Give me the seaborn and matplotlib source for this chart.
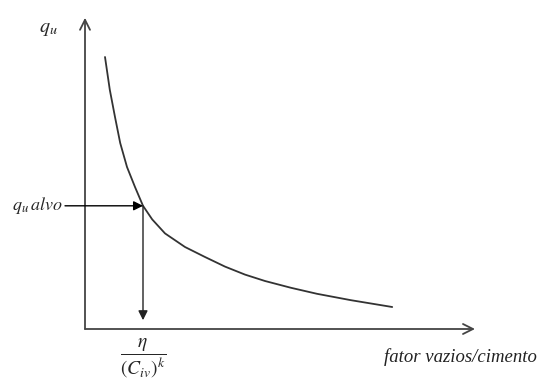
import pandas as pd
import matplotlib.pyplot as plt
import seaborn as sns

sns.set_theme(style="white")
plt.rcParams['mathtext.fontset'] = 'stix'
plt.rcParams['font.family'] = ['Liberation Serif', 'DejaVu Serif']

# curve (axis units: x = fator vazios/cimento, y = qu)
fator = [0.5, 0.62, 0.75, 0.88, 1.05, 1.25, 1.45, 1.68, 2.0, 2.5, 3.0,
         3.5, 4.0, 4.5, 5.15, 5.8, 6.65, 7.68]
qu = [6.8, 5.98, 5.3, 4.65, 4.05, 3.55, 3.08, 2.74, 2.39, 2.05, 1.8,
      1.56, 1.36, 1.2, 1.03, 0.88, 0.72, 0.55]
qu_alvo = 3.08
eta_alvo = 1.45
x_max = 9.75
y_max = 7.78

df = pd.DataFrame({'fator': fator, 'qu': qu})

fig = plt.figure(figsize=(5.4, 3.83), dpi=100)
ax = fig.add_axes([0, 0, 1, 1])
sns.lineplot(data=df, x='fator', y='qu', color='#333333', linewidth=1.3, ax=ax)

# axes drawn as arrows
ax.annotate('', xy=(0, y_max), xytext=(0, 0),
            arrowprops=dict(arrowstyle='->', color='#444444', lw=1.3,
                            mutation_scale=18, shrinkA=0, shrinkB=0))
ax.annotate('', xy=(x_max, 0), xytext=(0, 0),
            arrowprops=dict(arrowstyle='->', color='#444444', lw=1.3,
                            mutation_scale=18, shrinkA=0, shrinkB=0))

# target arrows
ax.annotate('', xy=(eta_alvo, qu_alvo), xytext=(-0.5, qu_alvo),
            arrowprops=dict(arrowstyle='-|>', color='black', lw=1.0,
                            mutation_scale=14, shrinkA=0, shrinkB=0))
ax.annotate('', xy=(eta_alvo, 0.22), xytext=(eta_alvo, qu_alvo),
            arrowprops=dict(arrowstyle='-|>', color='#222222', lw=1.0,
                            mutation_scale=14, shrinkA=0, shrinkB=0))

ax.text(-0.92, 7.52, r'$q_u$', fontsize=14.5, ha='center', va='center')
ax.text(-0.55, qu_alvo, r'$q_u\,alvo$', fontsize=13, ha='right', va='center')
ax.text(eta_alvo, -0.72, r'$\dfrac{\eta}{(C_{iv})^k}$', fontsize=14, ha='center', va='center')
ax.text(7.47, -0.7, 'fator vazios/cimento', fontsize=13.5, style='italic',
        ha='left', va='center', color='#222222')

ax.set_xlim(-2.125, 11.375)
ax.set_ylim(-1.35, 8.225)
ax.axis('off')

fig.savefig('out.png', dpi=100, facecolor='white')
